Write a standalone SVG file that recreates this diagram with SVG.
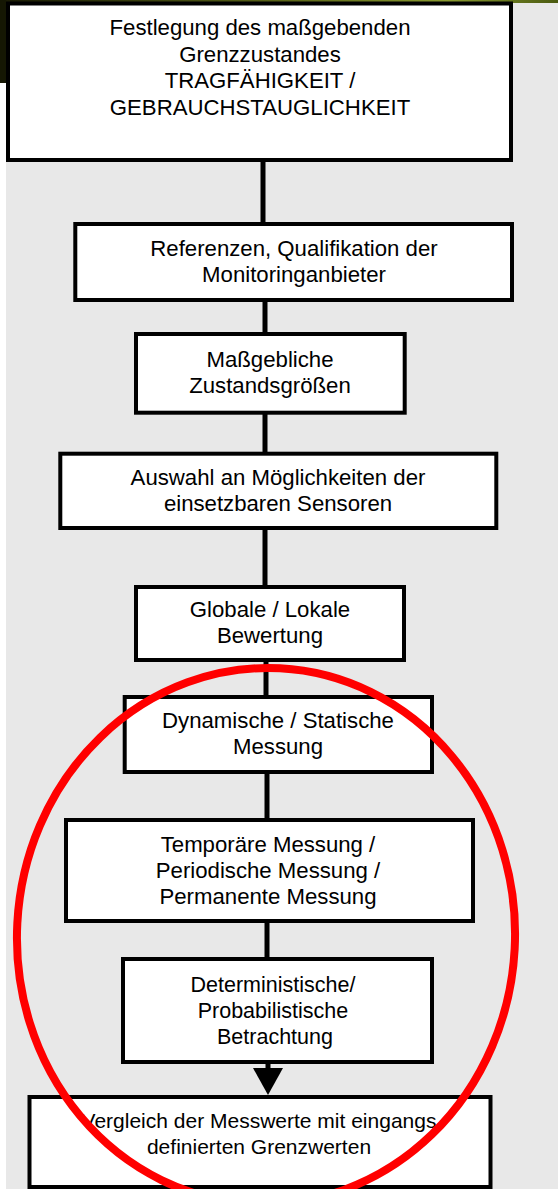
<svg xmlns="http://www.w3.org/2000/svg" width="558" height="1189" viewBox="0 0 558 1189">
<defs>
<linearGradient id="topg" x1="0" y1="0" x2="1" y2="0">
<stop offset="0" stop-color="#1a1c05"/>
<stop offset="0.5" stop-color="#5a6418"/>
<stop offset="0.8" stop-color="#8a9a30"/>
<stop offset="1" stop-color="#4a5a10"/>
</linearGradient>
<style>
.box{fill:#fff;stroke:#000;stroke-width:4}
.t{font-family:"Liberation Sans",Arial,sans-serif;font-size:22.2px;fill:#000;text-anchor:middle}
.s{font-size:21.5px}
.xs{font-size:21px}
.c{stroke:#000;stroke-width:5;fill:none}
</style>
</defs>
<rect x="0" y="0" width="558" height="1189" fill="#fff"/>
<rect x="0" y="0" width="6" height="83" fill="#151703"/>
<rect x="6" y="0" width="552" height="3" fill="url(#topg)"/>
<rect x="6" y="3" width="552" height="1186" fill="#e8e8e8"/>
<g id="connectors">
<line class="c" x1="263" y1="160" x2="263" y2="224"/>
<line class="c" x1="265" y1="300" x2="265" y2="334"/>
<line class="c" x1="265" y1="413" x2="265" y2="454"/>
<line class="c" x1="265" y1="528" x2="265" y2="587"/>
<line class="c" x1="266" y1="660" x2="266" y2="697"/>
<line class="c" x1="267" y1="772" x2="267" y2="820"/>
<line class="c" x1="267" y1="921" x2="267" y2="959"/>
<line class="c" x1="268" y1="1062" x2="268" y2="1068"/>
<path d="M253,1068 L283,1068 L268,1095 Z" fill="#000"/>
</g>
<g id="n1"><rect class="box" x="8" y="3.5" width="503" height="156.5"/>
<text class="t" x="260" y="35">Festlegung des maßgebenden</text>
<text class="t" x="260" y="61.5">Grenzzustandes</text>
<text class="t" x="260" y="88">TRAGFÄHIGKEIT /</text>
<text class="t" x="260" y="115">GEBRAUCHSTAUGLICHKEIT</text></g>
<g id="n2"><rect class="box" x="75.3" y="224" width="436.7" height="76"/>
<text class="t" x="294" y="255.7">Referenzen, Qualifikation der</text>
<text class="t" x="294" y="281.7">Monitoringanbieter</text></g>
<g id="n3"><rect class="box" x="136" y="334" width="268.7" height="78.7"/>
<text class="t" x="270" y="366.7">Maßgebliche</text>
<text class="t" x="270" y="392.7">Zustandsgrößen</text></g>
<g id="n4"><rect class="box" x="60.3" y="453.7" width="436" height="74.3"/>
<text class="t" x="278" y="485">Auswahl an Möglichkeiten der</text>
<text class="t" x="278" y="511">einsetzbaren Sensoren</text></g>
<g id="n5"><rect class="box" x="136" y="587" width="268" height="73"/>
<text class="t" x="270" y="617">Globale / Lokale</text>
<text class="t" x="270" y="643">Bewertung</text></g>
<g id="n6"><rect class="box" x="124.7" y="697" width="307.3" height="75"/>
<text class="t" x="278" y="728">Dynamische / Statische</text>
<text class="t" x="278" y="754">Messung</text></g>
<g id="n7"><rect class="box" x="66" y="820" width="407" height="101"/>
<text class="t" x="268" y="852">Temporäre Messung /</text>
<text class="t" x="268" y="878">Periodische Messung /</text>
<text class="t" x="268" y="904">Permanente Messung</text></g>
<g id="n8"><rect class="box" x="123" y="959" width="309" height="103"/>
<text class="t s" x="273" y="992">Deterministische/</text>
<text class="t s" x="273" y="1018">Probabilistische</text>
<text class="t s" x="275" y="1044">Betrachtung</text></g>
<g id="n9"><rect class="box" x="29.5" y="1097" width="461" height="90"/>
<text class="t xs" x="259" y="1128.3">Vergleich der Messwerte mit eingangs</text>
<text class="t xs" x="259" y="1154">definierten Grenzwerten</text></g>
<ellipse id="highlight" cx="266" cy="936" rx="249" ry="268" transform="rotate(3 266 936)" fill="none" stroke="#ff0000" stroke-width="8"/>
</svg>
